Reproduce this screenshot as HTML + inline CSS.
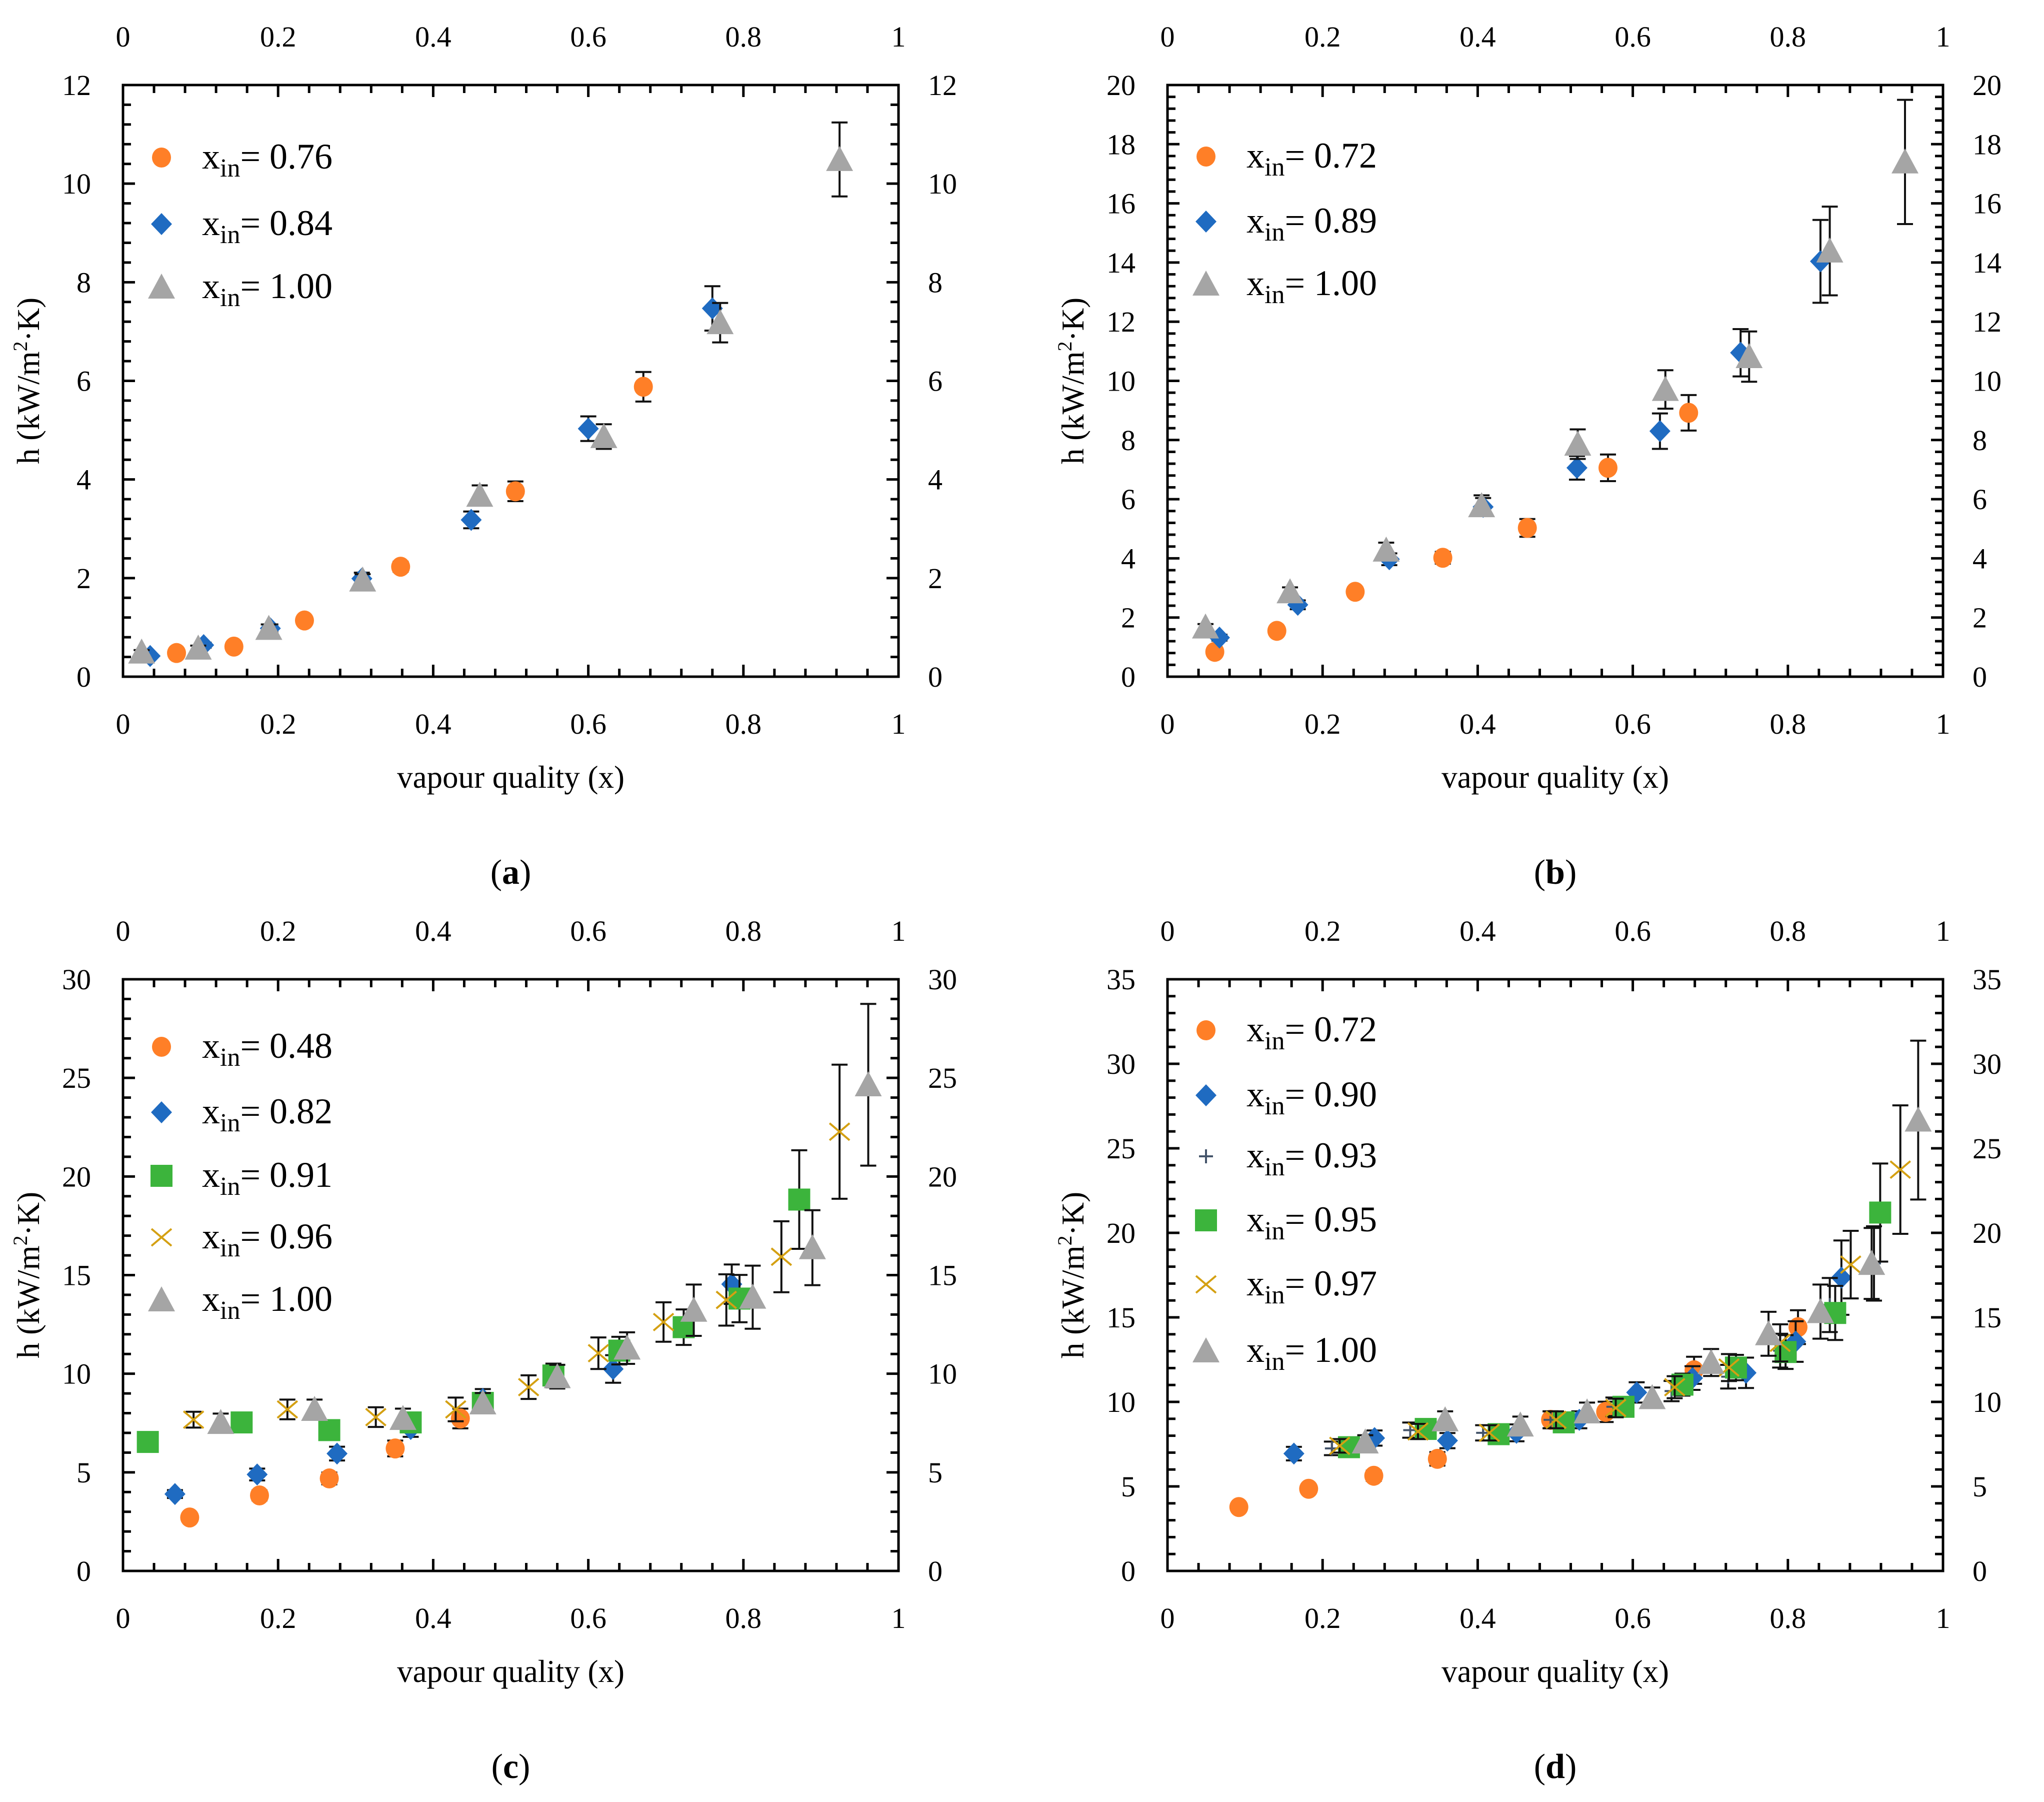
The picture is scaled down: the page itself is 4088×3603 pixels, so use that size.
<!DOCTYPE html>
<html><head><meta charset="utf-8"><style>
html,body{margin:0;padding:0;background:#fff;}
svg{display:block;font-family:"Liberation Serif",serif;}
</style></head><body>
<svg id="fig" width="4088" height="3603" viewBox="0 0 4088 3603" xmlns="http://www.w3.org/2000/svg"></svg>
<script>
// ---- Panel (a) data ----
const aOrangeX=[0.069,0.143,0.234,0.358,0.506,0.671];
const aOrangeY=[0.48,0.61,1.14,2.23,3.76,5.88];
const aOrangeE=[0.05,0.05,0.08,0.1,0.2,0.3];
const aBlueX=[0.035,0.104,0.19,0.308,0.449,0.6,0.76];
const aBlueY=[0.42,0.64,0.98,1.99,3.18,5.03,7.47];
const aBlueE=[0.03,0.05,0.08,0.12,0.17,0.25,0.45];
const aGrayX=[0.024,0.097,0.188,0.309,0.46,0.62,0.77,0.924];
const aGrayY=[0.5,0.58,0.98,1.96,3.68,4.87,7.18,10.49];
const aGrayE=[0.04,0.05,0.08,0.12,0.2,0.25,0.4,0.75];
// ---- Panel (b) data ----
const bOrangeX=[0.061,0.141,0.242,0.355,0.464,0.568,0.672];
const bOrangeY=[0.84,1.55,2.87,4.02,5.03,7.06,8.92];
const bOrangeE=[0.1,0.1,0.15,0.2,0.3,0.45,0.6];
const bBlueX=[0.067,0.168,0.286,0.407,0.528,0.635,0.739,0.842];
const bBlueY=[1.32,2.43,3.97,5.74,7.06,8.3,10.95,14.04];
const bBlueE=[0.1,0.15,0.2,0.3,0.4,0.6,0.8,1.4];
const bGrayX=[0.049,0.158,0.282,0.405,0.529,0.642,0.75,0.854,0.951];
const bGrayY=[1.68,2.87,4.28,5.78,7.86,9.71,10.82,14.39,17.4];
const bGrayE=[0.1,0.15,0.25,0.35,0.5,0.65,0.85,1.5,2.1];
// ---- Panel (c) data ----
const cOrangeX=[0.086,0.176,0.266,0.351,0.435];
const cOrangeY=[2.71,3.83,4.69,6.21,7.73];
const cOrangeE=[0.2,0.25,0.3,0.4,0.5];
const cBlueX=[0.067,0.173,0.276,0.371,0.464,0.632,0.785];
const cBlueY=[3.9,4.89,5.95,7.2,8.72,10.24,14.54];
const cBlueE=[0.2,0.3,0.35,0.4,0.5,0.7,1.0];
const cGreenX=[0.032,0.153,0.266,0.371,0.464,0.555,0.64,0.723,0.795,0.872];
const cGreenY=[6.54,7.53,7.14,7.53,8.52,9.91,11.17,12.36,13.81,18.83];
const cGreenE=[0.4,0.45,0.45,0.5,0.5,0.6,0.7,0.9,1.2,2.5];
const cGoldX=[0.091,0.212,0.326,0.429,0.523,0.613,0.697,0.778,0.849,0.924];
const cGoldY=[7.67,8.19,7.8,8.19,9.32,11.04,12.62,13.74,15.93,22.27];
const cGoldE=[0.4,0.5,0.5,0.6,0.6,0.8,1.0,1.3,1.8,3.4];
const cGrayX=[0.126,0.247,0.361,0.464,0.56,0.65,0.736,0.812,0.889,0.961];
const cGrayY=[7.53,8.19,7.73,8.52,9.85,11.3,13.22,13.88,16.39,24.65];
const cGrayE=[0.45,0.5,0.5,0.5,0.6,0.8,1.3,1.6,1.9,4.1];
// ---- Panel (d) data ----
const dOrangeX=[0.092,0.182,0.266,0.348,0.494,0.565,0.679,0.813];
const dOrangeY=[3.78,4.86,5.63,6.63,8.94,9.41,11.87,14.42];
const dOrangeE=[0.2,0.25,0.3,0.4,0.5,0.6,0.8,1.0];
const dBlueX=[0.163,0.267,0.361,0.45,0.531,0.605,0.677,0.746,0.81,0.869];
const dBlueY=[6.94,7.86,7.71,8.17,8.94,10.56,11.41,11.72,13.57,17.35];
const dBlueE=[0.4,0.45,0.45,0.5,0.5,0.6,0.7,0.9,1.2,2.2];
const dPlusX=[0.212,0.313,0.407,0.494,0.575,0.65,0.723,0.79,0.854,0.911];
const dPlusY=[7.25,8.33,8.17,8.94,9.71,10.64,11.49,13.03,15.73,18.19];
const dPlusE=[0.4,0.45,0.45,0.5,0.55,0.6,0.7,1.0,1.6,2.2];
const dGreenX=[0.234,0.333,0.427,0.511,0.588,0.664,0.733,0.797,0.861,0.919];
const dGreenY=[7.32,8.4,8.09,8.79,9.71,11.02,12.03,12.95,15.26,21.2];
const dGreenE=[0.4,0.45,0.45,0.5,0.55,0.65,0.75,1.0,1.6,2.9];
const dGoldX=[0.222,0.323,0.415,0.501,0.578,0.654,0.724,0.79,0.881,0.945];
const dGoldY=[7.4,8.25,8.17,8.94,9.64,10.87,12.03,13.49,18.12,23.74];
const dGoldE=[0.4,0.45,0.45,0.5,0.55,0.65,0.8,1.1,2.0,3.8];
const dGrayX=[0.255,0.358,0.455,0.541,0.625,0.701,0.775,0.842,0.908,0.968];
const dGrayY=[7.63,8.94,8.63,9.41,10.25,12.33,14.03,15.34,18.19,26.67];
const dGrayE=[0.4,0.5,0.5,0.55,0.6,0.8,1.3,1.6,2.1,4.7];
// ---- tick labels ----
const xTickLabels=["0","0.2","0.4","0.6","0.8","1"];
const aYTicks=["0","2","4","6","8","10","12"];
const bYTicks=["0","2","4","6","8","10","12","14","16","18","20"];
const cYTicks=["0","5","10","15","20","25","30"];
const dYTicks=["0","5","10","15","20","25","30","35"];

const C={orange:"#ff7f27",blue:"#1f6bc1",green:"#3cb43c",gold:"#d4a012",gray:"#a5a5a5",plus:"#44546a"};
const NS="http://www.w3.org/2000/svg";
const svg=document.getElementById('fig');
function mk(tag,attrs,parent){const e=document.createElementNS(NS,tag);for(const k in attrs)e.setAttribute(k,attrs[k]);(parent||svg).appendChild(e);return e;}

const W=1551,H=1183;
const panels=[
 {id:'a',x0:246,y0:170,ymax:12,ymaj:2,ymin:0.4,yt:aYTicks,leg:[145,278,404],
  series:[['orange','circle',aOrangeX,aOrangeY,aOrangeE,'0.76'],['blue','diamond',aBlueX,aBlueY,aBlueE,'0.84'],['gray','triangle',aGrayX,aGrayY,aGrayE,'1.00']]},
 {id:'b',x0:2335,y0:170,ymax:20,ymaj:2,ymin:0.4,yt:bYTicks,leg:[143,273,398],
  series:[['orange','circle',bOrangeX,bOrangeY,bOrangeE,'0.72'],['blue','diamond',bBlueX,bBlueY,bBlueE,'0.89'],['gray','triangle',bGrayX,bGrayY,bGrayE,'1.00']]},
 {id:'c',x0:246,y0:1958,ymax:30,ymaj:5,ymin:1,yt:cYTicks,leg:[135,266,393,516,641],
  series:[['orange','circle',cOrangeX,cOrangeY,cOrangeE,'0.48'],['blue','diamond',cBlueX,cBlueY,cBlueE,'0.82'],['green','square',cGreenX,cGreenY,cGreenE,'0.91'],['gold','cross',cGoldX,cGoldY,cGoldE,'0.96'],['gray','triangle',cGrayX,cGrayY,cGrayE,'1.00']]},
 {id:'d',x0:2335,y0:1958,ymax:35,ymaj:5,ymin:1,yt:dYTicks,leg:[102,232,354,482,610,743],
  series:[['orange','circle',dOrangeX,dOrangeY,dOrangeE,'0.72'],['blue','diamond',dBlueX,dBlueY,dBlueE,'0.90'],['plus','plus',dPlusX,dPlusY,dPlusE,'0.93'],['green','square',dGreenX,dGreenY,dGreenE,'0.95'],['gold','cross',dGoldX,dGoldY,dGoldE,'0.97'],['gray','triangle',dGrayX,dGrayY,dGrayE,'1.00']]}
];

function marker(g,shape,color,cx,cy){
  let e;
  if(shape==='circle') e=mk('ellipse',{cx:cx,cy:cy,rx:19,ry:20,fill:C[color]},g);
  else if(shape==='diamond') e=mk('polygon',{points:`${cx},${cy-22} ${cx+21},${cy} ${cx},${cy+22} ${cx-21},${cy}`,fill:C[color]},g);
  else if(shape==='square') e=mk('rect',{x:cx-22,y:cy-22,width:44,height:44,fill:C[color]},g);
  else if(shape==='triangle') e=mk('polygon',{points:`${cx},${cy-27} ${cx+27},${cy+23} ${cx-27},${cy+23}`,fill:C[color]},g);
  else if(shape==='cross') e=mk('path',{d:`M${cx-20},${cy-17}L${cx+20},${cy+17}M${cx-20},${cy+17}L${cx+20},${cy-17}`,stroke:C[color],'stroke-width':4,fill:'none'},g);
  else e=mk('path',{d:`M${cx-14},${cy}L${cx+14},${cy}M${cx},${cy-14}L${cx},${cy+14}`,stroke:C[color],'stroke-width':4,fill:'none'},g);
  return e;
}

panels.forEach(p=>{
  const g=mk('g',{});
  
  
  const sx=v=>p.x0+v*W, sy=v=>p.y0+H-v/p.ymax*H;
  const X1=p.x0+W,Y1=p.y0+H;
  const tk=mk('g',{stroke:'#000','stroke-width':5},g);
  
  
  for(let i=0;i<=25;i++){const v=i*0.04;const x=sx(v);const L=(i%5===0)?24:16;
    mk('line',{x1:x,y1:Y1,x2:x,y2:Y1-L},tk);mk('line',{x1:x,y1:p.y0,x2:x,y2:p.y0+L},tk);}
  const n=Math.round(p.ymax/p.ymin);
  for(let i=0;i<=n;i++){const v=i*p.ymin;const y=sy(v);const maj=Math.abs(v/p.ymaj-Math.round(v/p.ymaj))<1e-6;const L=maj?24:16;
    mk('line',{x1:p.x0,y1:y,x2:p.x0+L,y2:y},tk);mk('line',{x1:X1,y1:y,x2:X1-L,y2:y},tk);}
  const fr=mk('rect',{x:p.x0,y:p.y0,width:W,height:H,fill:'none',stroke:'#000','stroke-width':5},g);
  
  
  xTickLabels.forEach((t,i)=>{const x=sx(i*0.2);
    const b=mk('text',{x:x,y:Y1+114,'font-size':58,'text-anchor':'middle'},g);b.textContent=t;
    
    
    const tt=mk('text',{x:x,y:p.y0-77,'font-size':58,'text-anchor':'middle'},g);tt.textContent=t;
    
    });
  p.yt.forEach((t,i)=>{const y=sy(i*p.ymaj)+20;
    const l=mk('text',{x:p.x0-64,y:y,'font-size':58,'text-anchor':'end'},g);l.textContent=t;
    
    
    const r=mk('text',{x:X1+59,y:y,'font-size':58,'text-anchor':'start'},g);r.textContent=t;
    
    });
  const xt=mk('text',{x:p.x0+W/2,y:Y1+222,'font-size':63,'text-anchor':'middle'},g);xt.textContent='vapour quality (x)';
  
  
  const yt=mk('text',{x:0,y:0,'font-size':63,'text-anchor':'middle',transform:`translate(${p.x0-168},${p.y0+H/2}) rotate(-90)`},g);
  yt.innerHTML='h (kW/m<tspan font-size="40" dy="-24">2</tspan><tspan dy="24">·K)</tspan>';
  
  
  const pl=mk('text',{x:p.x0+W/2,y:Y1+414,'font-size':70,'text-anchor':'middle'},g);
  pl.innerHTML='(<tspan font-weight="bold">'+p.id+'</tspan>)';
  
  
  p.series.forEach((s,k)=>{
    const [col,shape,xs,ys,es,lab]=s;
    const sg=mk('g',{},g);
    
    
    xs.forEach((xv,i)=>{const cx=sx(xv),cy=sy(ys[i]);const e=es[i];
      const eb=mk('path',{d:`M${cx},${sy(ys[i]-e)}L${cx},${sy(ys[i]+e)}M${cx-16},${sy(ys[i]-e)}L${cx+16},${sy(ys[i]-e)}M${cx-16},${sy(ys[i]+e)}L${cx+16},${sy(ys[i]+e)}`,stroke:'#111','stroke-width':4,fill:'none'},sg);
      
      
      const m=marker(sg,shape,col,cx,cy);
      
      });
    const ly=p.y0+p.leg[k];
    const lm=marker(g,shape,col,p.x0+77,ly);
    
    
    const lt=mk('text',{x:p.x0+158,y:ly+22,'font-size':72},g);
    lt.innerHTML='x<tspan font-size="52" dy="16">in</tspan><tspan dy="-16">= '+lab+'</tspan>';
    
    
  });
});
</script>
</body></html>
